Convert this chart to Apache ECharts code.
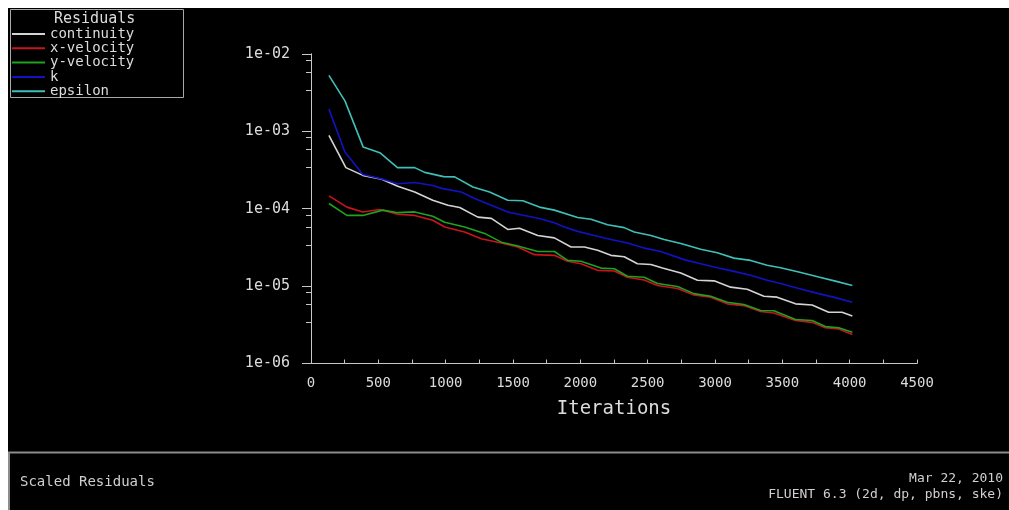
<!DOCTYPE html>
<html>
<head>
<meta charset="utf-8">
<title>Scaled Residuals</title>
<script src="https://cdn.jsdelivr.net/npm/echarts@6/dist/echarts.min.js"></script>
<style>
  html, body { margin: 0; padding: 0; background: #fff; }
  #chart { width: 1009px; height: 510px; }
</style>
</head>
<body>
<div id="chart"></div>
<script>
// residual histories: [iteration, residual]
const continuity = [
    [133, 8.9e-4], [259, 3.4e-4], [385, 2.7e-4], [526, 2.4e-4], [644, 1.95e-4], [770, 1.65e-4],
    [904, 1.29e-4], [1017, 1.11e-4], [1104, 1.04e-4], [1239, 7.8e-5], [1339, 7.5e-5], [1461, 5.4e-5],
    [1548, 5.6e-5], [1684, 4.5e-5], [1807, 4.2e-5], [1931, 3.2e-5], [2030, 3.2e-5], [2128, 2.9e-5],
    [2227, 2.5e-5], [2326, 2.4e-5], [2424, 1.95e-5], [2524, 1.9e-5], [2610, 1.72e-5], [2746, 1.48e-5],
    [2870, 1.19e-5], [2993, 1.17e-5], [3116, 9.7e-6], [3239, 9.1e-6], [3363, 7.4e-6], [3461, 7.2e-6],
    [3598, 5.9e-6], [3721, 5.7e-6], [3844, 4.6e-6], [3943, 4.6e-6], [4020, 4.1e-6]
];
const xVelocity = [
    [133, 1.47e-4], [267, 1.05e-4], [385, 9.1e-5], [511, 9.8e-5], [644, 8.5e-5], [770, 8.2e-5],
    [904, 7.1e-5], [993, 5.8e-5], [1141, 5.0e-5], [1264, 4.1e-5], [1413, 3.6e-5], [1536, 3.2e-5],
    [1659, 2.55e-5], [1807, 2.5e-5], [1906, 2.1e-5], [2005, 1.95e-5], [2128, 1.6e-5], [2252, 1.57e-5],
    [2350, 1.3e-5], [2474, 1.2e-5], [2573, 1.02e-5], [2721, 9.3e-6], [2844, 7.7e-6], [2968, 7.2e-6],
    [3091, 5.9e-6], [3215, 5.6e-6], [3339, 4.7e-6], [3437, 4.5e-6], [3598, 3.6e-6], [3721, 3.4e-6],
    [3820, 2.9e-6], [3919, 2.8e-6], [4020, 2.37e-6]
];
const yVelocity = [
    [133, 1.17e-4], [267, 8.2e-5], [385, 8.2e-5], [533, 9.6e-5], [644, 8.9e-5], [770, 9.1e-5],
    [904, 8.0e-5], [993, 6.7e-5], [1141, 5.8e-5], [1289, 4.8e-5], [1413, 3.7e-5], [1536, 3.3e-5],
    [1684, 2.8e-5], [1807, 2.8e-5], [1906, 2.15e-5], [2005, 2.1e-5], [2153, 1.71e-5], [2252, 1.68e-5],
    [2350, 1.34e-5], [2474, 1.3e-5], [2573, 1.08e-5], [2721, 9.9e-6], [2844, 8.0e-6], [2968, 7.4e-6],
    [3091, 6.2e-6], [3215, 5.8e-6], [3339, 4.85e-6], [3437, 4.8e-6], [3598, 3.7e-6], [3721, 3.6e-6],
    [3820, 3.0e-6], [3919, 2.9e-6], [4020, 2.54e-6]
];
const kResidual = [
    [133, 1.94e-3], [252, 5.4e-4], [385, 2.77e-4], [533, 2.4e-4], [644, 2.1e-4], [770, 2.18e-4],
    [904, 2.0e-4], [978, 1.82e-4], [1116, 1.65e-4], [1215, 1.36e-4], [1339, 1.11e-4], [1461, 9.1e-5],
    [1585, 8.2e-5], [1696, 7.5e-5], [1807, 6.6e-5], [1881, 5.8e-5], [1980, 5.1e-5], [2104, 4.5e-5],
    [2227, 4.0e-5], [2350, 3.6e-5], [2474, 3.1e-5], [2598, 2.8e-5], [2770, 2.2e-5], [2894, 1.95e-5],
    [3017, 1.73e-5], [3141, 1.55e-5], [3264, 1.38e-5], [3387, 1.19e-5], [3487, 1.08e-5], [3622, 9.3e-6],
    [3770, 8.0e-6], [3894, 7.1e-6], [4020, 6.2e-6]
];
const epsilon = [
    [133, 5.3e-3], [252, 2.48e-3], [387, 6.3e-4], [511, 5.3e-4], [642, 3.4e-4], [770, 3.4e-4],
    [844, 2.95e-4], [985, 2.6e-4], [1067, 2.58e-4], [1202, 1.91e-4], [1326, 1.65e-4], [1461, 1.29e-4],
    [1573, 1.27e-4], [1696, 1.05e-4], [1807, 9.6e-5], [1980, 7.7e-5], [2079, 7.3e-5], [2202, 6.2e-5],
    [2326, 5.7e-5], [2400, 5.0e-5], [2524, 4.5e-5], [2622, 4.0e-5], [2746, 3.55e-5], [2894, 3.0e-5],
    [3017, 2.7e-5], [3141, 2.3e-5], [3264, 2.15e-5], [3387, 1.86e-5], [3487, 1.73e-5], [3622, 1.52e-5],
    [3770, 1.31e-5], [3894, 1.16e-5], [4020, 1.02e-5]
];

const seriesNames = ['continuity', 'x-velocity', 'y-velocity', 'k', 'epsilon'];
const seriesColors = ['#d4d4d4', '#c8141e', '#1fa21f', '#1212c4', '#3ec0b8'];
const seriesData = [continuity, xVelocity, yVelocity, kResidual, epsilon];

// decades (log10) and the minor-tick mantissas drawn inside each one
const decades = [-6, -5, -4, -3];
const minorMantissas = [3.4, 5.8, 8.3];

const FONT = 'DejaVu Sans Mono';
const FG = '#dcdcdc';
const AXIS = '#c8c8c8';

function expLabel(v) {
    const e = Math.round(Math.log10(v));
    return '1e' + (e < 0 ? '-' : '+') + String(Math.abs(e)).padStart(2, '0');
}

// log axis customValues are filtered out, so a log10-unit overlay axis carries the minor ticks
const minorLogValues = [];
decades.forEach(d => minorMantissas.forEach(m => minorLogValues.push(+(d + Math.log10(m)).toFixed(4))));

const chart = echarts.init(document.getElementById('chart'));

const lineSeries = seriesNames.map((name, i) => ({
    name: name,
    type: 'line',
    data: seriesData[i],
    yAxisIndex: 0,
    showSymbol: false,
    symbol: 'none',
    color: seriesColors[i],
    lineStyle: { color: seriesColors[i], width: 1.6 }
}));
// empty series so the overlay tick axis counts as used
lineSeries.push({ name: 'minor-ticks', type: 'line', yAxisIndex: 1, data: [], silent: true });

const option = {
    backgroundColor: '#000',
    animation: false,
    title: {
        text: 'Residuals',
        left: 54,
        top: 12,
        padding: 0,
        textStyle: { color: FG, fontFamily: FONT, fontSize: 15, fontWeight: 'normal' }
    },
    legend: {
        data: seriesNames,
        orient: 'vertical',
        left: 12,
        top: 27,
        padding: 0,
        itemGap: 0.3,
        itemWidth: 33,
        itemHeight: 2,
        icon: 'rect',
        selectedMode: false,
        textStyle: { color: FG, fontFamily: FONT, fontSize: 14, lineHeight: 14 }
    },
    grid: { left: 311, top: 54, width: 606, height: 309.5, containLabel: false },
    xAxis: {
        type: 'value',
        min: 0,
        max: 4500,
        interval: 500,
        name: 'Iterations',
        nameLocation: 'middle',
        nameGap: 36,
        nameTextStyle: { color: FG, fontFamily: FONT, fontSize: 19 },
        axisLine: { lineStyle: { color: AXIS, width: 1 } },
        axisTick: { inside: true, length: 4, lineStyle: { color: AXIS } },
        minorTick: { show: true, splitNumber: 2, length: 4, lineStyle: { color: AXIS } },
        axisLabel: { color: FG, fontFamily: FONT, fontSize: 14, margin: 13, formatter: v => String(v) },
        splitLine: { show: false }
    },
    yAxis: [
        {
            type: 'log',
            logBase: 10,
            min: 1e-6,
            max: 1e-2,
            axisLine: { show: true, lineStyle: { color: AXIS, width: 1 } },
            axisTick: { show: true, length: 9, lineStyle: { color: AXIS } },
            axisLabel: { color: FG, fontFamily: FONT, fontSize: 15, margin: 21, formatter: expLabel },
            splitLine: { show: false }
        },
        {
            type: 'value',
            gridIndex: 0,
            show: true,
            min: -6,
            max: -2,
            position: 'left',
            offset: 0,
            axisLine: { show: true, onZero: false, lineStyle: { color: AXIS, width: 1 } },
            axisTick: { show: true, length: 5, customValues: minorLogValues, lineStyle: { color: AXIS } },
            axisLabel: { show: true, customValues: minorLogValues, formatter: () => '' },
            splitLine: { show: false }
        }
    ],
    series: lineSeries,
    graphic: [
        // page margins
        { type: 'rect', shape: { x: 0, y: 0, width: 1009, height: 8 }, style: { fill: '#fff' }, silent: true },
        { type: 'rect', shape: { x: 0, y: 0, width: 8, height: 510 }, style: { fill: '#fff' }, silent: true },
        // legend frame
        { type: 'rect', shape: { x: 10.5, y: 9.5, width: 173, height: 88 },
          style: { fill: 'none', stroke: '#a8a8a8', lineWidth: 1 }, silent: true },
        // bottom panel border
        { type: 'line', shape: { x1: 8, y1: 452.5, x2: 1009, y2: 452.5 },
          style: { stroke: '#8c8c8c', lineWidth: 2 }, silent: true },
        { type: 'line', shape: { x1: 9, y1: 452, x2: 9, y2: 510 },
          style: { stroke: '#8c8c8c', lineWidth: 2 }, silent: true },
        { type: 'text', left: 20, top: 475,
          style: { text: 'Scaled Residuals', fill: '#d0d0d0', font: '14px "DejaVu Sans Mono"' } },
        { type: 'text', right: 6, top: 472,
          style: { text: 'Mar 22, 2010', fill: '#d0d0d0', font: '13px "DejaVu Sans Mono"', textAlign: 'right' } },
        { type: 'text', right: 6, top: 488,
          style: { text: 'FLUENT 6.3 (2d, dp, pbns, ske)', fill: '#d0d0d0', font: '13px "DejaVu Sans Mono"', textAlign: 'right' } }
    ]
};

chart.setOption(option);
window.addEventListener('resize', () => chart.resize());
</script>
</body>
</html>
